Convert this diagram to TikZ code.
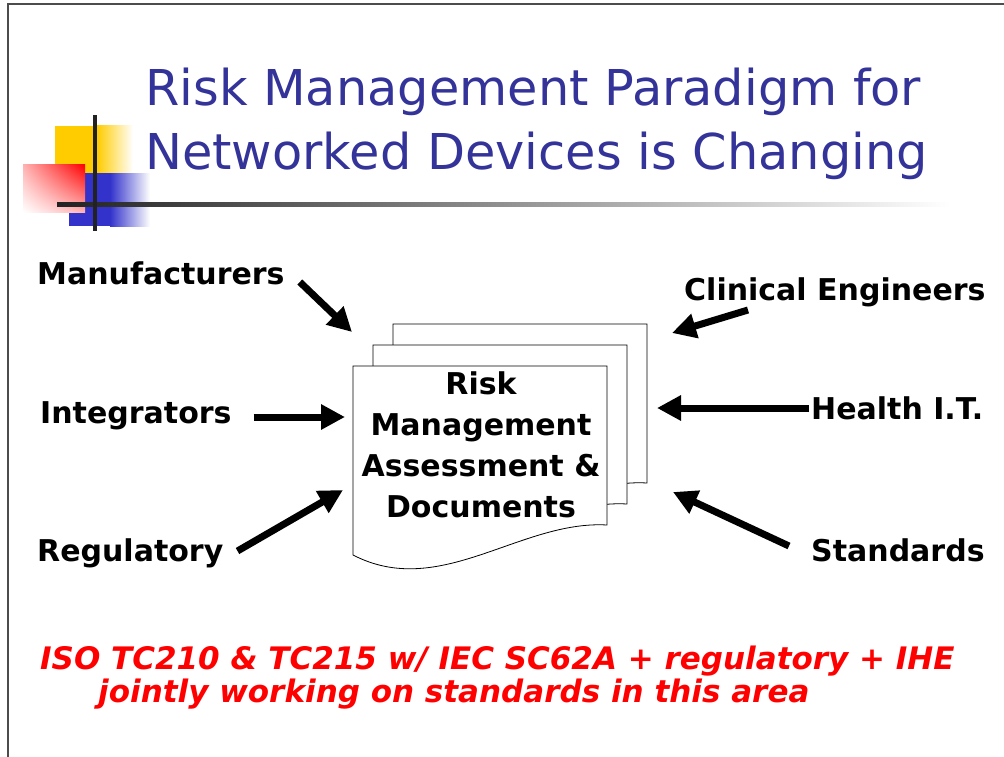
\documentclass[tikz,border=0pt]{standalone}
\usepackage{fontspec}
\setsansfont{DejaVu Sans}
\usetikzlibrary{arrows.meta,shadings}
\definecolor{titleblue}{RGB}{51,51,153}
\definecolor{logoyellow}{RGB}{255,204,0}
\definecolor{logoblue}{RGB}{51,51,204}
\definecolor{rulegray}{RGB}{34,34,34}

\begin{document}
\begin{tikzpicture}[x=1pt,y=-1pt,
  lab/.style={anchor=base west,inner sep=0,font=\sffamily\bfseries\fontsize{30}{36}\selectfont},
  push/.style={line width=7pt,-{Triangle[length=24pt,width=24pt]}},
  page/.style={fill=white,draw=black,line width=0.8pt},
  titletext/.style={anchor=base west,inner sep=0,text=titleblue,font=\sffamily\fontsize{49.4}{58}\selectfont},
  notetext/.style={anchor=base west,inner sep=0,text=red,font=\sffamily\bfseries\itshape\fontsize{31}{33}\selectfont}]
\useasboundingbox (0,0) rectangle (1004,757);
\draw[black!70,line width=1.5pt] (8,757) -- (8,4) -- (1004,4);
% logo squares and the rule under the title
\fill[logoyellow] (55,126) rectangle (97,173);
\shade[left color=logoyellow,right color=white] (97,126) rectangle (133,173);
\fill[logoblue] (69,173) rectangle (110,226);
\shade[left color=logoblue,right color=white] (110,173) rectangle (150,226);
\shade[upper right=red,upper left=red!30,lower right=red!30,lower left=white] (23,165) rectangle (85,212);
\shade[left color=rulegray,right color=white] (57,202) rectangle (950,206);
\fill[rulegray] (93,115) rectangle (97,231);
% title
\node[titletext] (title1) at (145,106) {Risk Management Paradigm for};
\node[titletext] (title2) at (145,170) {Networked Devices is Changing};
% stack of documents, back to front
\foreach \dx/\dy in {40/-42,20/-21,0/0}
  \draw[page,shift={(\dx,\dy)}] (353,366) -- (607,366) -- (607,525)
    .. controls (520,520) and (440,600) .. (353,555) -- cycle;
\node[align=center,inner sep=0,font=\sffamily\bfseries\fontsize{30}{41}\selectfont] (doc) at (481,445)
  {Risk\\Management\\Assessment \&\\Documents};
% who feeds in
\node[lab] (manu) at (37,284) {Manufacturers};
\node[lab] (integ) at (40,423) {Integrators};
\node[lab] (regul) at (37,561) {Regulatory};
\node[lab] (clin) at (684,300) {Clinical Engineers};
\node[lab] (hit) at (811,419) {Health I.T.};
\node[lab] (stds) at (811,561) {Standards};
\coordinate (manu-tip) at (352,332);
\coordinate (integ-tip) at (345,417);
\coordinate (regul-tip) at (343,490);
\coordinate (clin-tip) at (672,333);
\coordinate (hit-tip) at (657,408);
\coordinate (stds-tip) at (673,492);
\draw[push] ([shift={(15,-2)}]manu.base east) -- (manu-tip);
\draw[push] ([shift={(22,-6)}]integ.base east) -- (integ-tip);
\draw[push] ([shift={(14,-10)}]regul.base east) -- (regul-tip);
\draw[push] ([shift={(64,10)}]clin.base west) -- (clin-tip);
\draw[push] ([shift={(-2,-11)}]hit.base west) -- (hit-tip);
\draw[push] ([shift={(-22,-15)}]stds.base west) -- (stds-tip);
% note at the bottom
\node[notetext] (note1) at (40,669) {ISO TC210 \& TC215 w/ IEC SC62A + regulatory + IHE};
\node[notetext] (note2) at (98,702) {jointly working on standards in this area};
\end{tikzpicture}
\end{document}
